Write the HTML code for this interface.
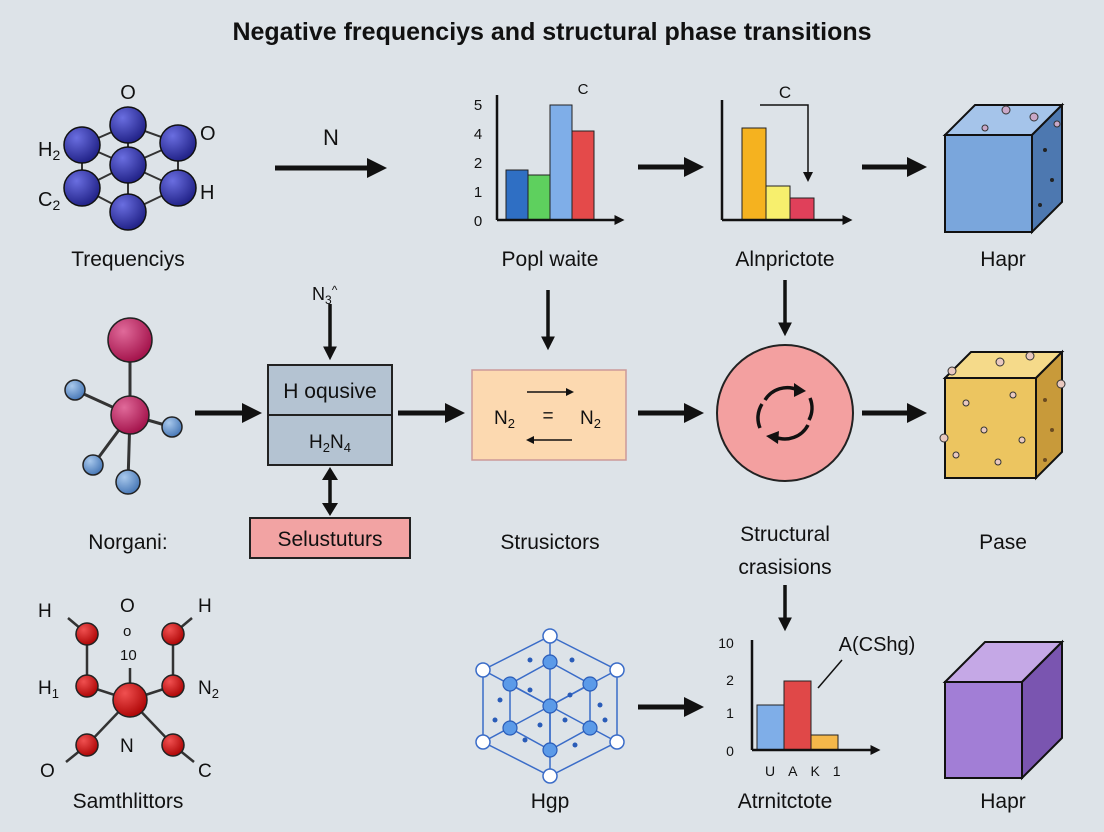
<!DOCTYPE html>
<html><head><meta charset="utf-8"><style>
html,body{margin:0;padding:0;background:#dde3e8;}
svg{display:block;font-family:"Liberation Sans",sans-serif;}
</style></head><body>
<svg width="1104" height="832" viewBox="0 0 1104 832" xmlns="http://www.w3.org/2000/svg">
<defs>
<marker id="ah" markerWidth="4" markerHeight="4" refX="2.2" refY="2" orient="auto" markerUnits="strokeWidth"><path d="M0,0 L4,2 L0,4 z" fill="#111"/></marker>
<radialGradient id="gb" cx="35%" cy="30%" r="70%"><stop offset="0" stop-color="#6a6ee0"/><stop offset="1" stop-color="#23248a"/></radialGradient>
<radialGradient id="gp" cx="35%" cy="30%" r="70%"><stop offset="0" stop-color="#e06a9a"/><stop offset="1" stop-color="#a5154d"/></radialGradient>
<radialGradient id="gl" cx="35%" cy="30%" r="70%"><stop offset="0" stop-color="#a8c8ec"/><stop offset="1" stop-color="#4a7ab8"/></radialGradient>
<radialGradient id="gr" cx="35%" cy="30%" r="70%"><stop offset="0" stop-color="#f05050"/><stop offset="1" stop-color="#b00808"/></radialGradient>
</defs>
<rect width="1104" height="832" fill="#dde3e8"/>
<text x="552" y="40" text-anchor="middle" font-size="25" font-weight="bold" fill="#111">Negative frequenciys and structural phase transitions</text>

<!-- Molecule 1 -->
<g stroke="#333" stroke-width="2">
<line x1="128" y1="125" x2="82" y2="145"/><line x1="128" y1="125" x2="178" y2="143"/><line x1="128" y1="125" x2="128" y2="165"/>
<line x1="82" y1="145" x2="128" y2="165"/><line x1="178" y1="143" x2="128" y2="165"/>
<line x1="82" y1="145" x2="82" y2="188"/><line x1="178" y1="143" x2="178" y2="188"/>
<line x1="128" y1="165" x2="82" y2="188"/><line x1="128" y1="165" x2="178" y2="188"/><line x1="128" y1="165" x2="128" y2="212"/>
<line x1="82" y1="188" x2="128" y2="212"/><line x1="178" y1="188" x2="128" y2="212"/>
</g>
<g fill="url(#gb)" stroke="#111" stroke-width="1.5">
<circle cx="128" cy="125" r="18"/><circle cx="82" cy="145" r="18"/><circle cx="178" cy="143" r="18"/><circle cx="128" cy="165" r="18"/><circle cx="82" cy="188" r="18"/><circle cx="178" cy="188" r="18"/><circle cx="128" cy="212" r="18"/>
</g>
<g font-size="20" fill="#111">
<text x="128" y="99" text-anchor="middle">O</text><text x="38" y="156">H<tspan font-size="14" dy="4">2</tspan></text>
<text x="200" y="140">O</text><text x="38" y="206">C<tspan font-size="14" dy="4">2</tspan></text><text x="200" y="199">H</text>
</g>

<!-- arrows row1 -->
<g stroke="#111" stroke-width="5" marker-end="url(#ah)">
<line x1="275" y1="168" x2="378" y2="168"/>
<line x1="638" y1="167" x2="695" y2="167"/>
<line x1="862" y1="167" x2="918" y2="167"/>
<line x1="638" y1="413" x2="695" y2="413"/>
<line x1="862" y1="413" x2="918" y2="413"/>
<line x1="195" y1="413" x2="253" y2="413"/>
<line x1="398" y1="413" x2="456" y2="413"/>
<line x1="638" y1="707" x2="695" y2="707"/>
</g>
<text x="331" y="145" text-anchor="middle" font-size="22" fill="#111">N</text>

<!-- chart 1 -->
<rect x="506" y="170" width="22" height="50" fill="#2f6fc4" stroke="#222"/>
<rect x="528" y="175" width="22" height="45" fill="#5ed05e" stroke="#222"/>
<rect x="550" y="105" width="22" height="115" fill="#7faee8" stroke="#222"/>
<rect x="572" y="131" width="22" height="89" fill="#e44a4a" stroke="#222"/>
<g stroke="#111" stroke-width="2.5"><line x1="497" y1="95" x2="497" y2="220"/><line x1="497" y1="220" x2="620" y2="220" marker-end="url(#ah)"/></g>
<g font-size="15" fill="#111" text-anchor="middle"><text x="478" y="110">5</text><text x="478" y="139">4</text><text x="478" y="168">2</text><text x="478" y="197">1</text><text x="478" y="226">0</text><text x="583" y="94">C</text></g>

<!-- chart 2 -->
<rect x="742" y="128" width="24" height="92" fill="#f5b21f" stroke="#222"/>
<rect x="766" y="186" width="24" height="34" fill="#f7ef6d" stroke="#222"/>
<rect x="790" y="198" width="24" height="22" fill="#e0405a" stroke="#222"/>
<g stroke="#111" stroke-width="2.5"><line x1="722" y1="100" x2="722" y2="220"/><line x1="722" y1="220" x2="848" y2="220" marker-end="url(#ah)"/></g>
<g stroke="#111" stroke-width="1.5" fill="none"><polyline points="760,105 808,105 808,176"/></g>
<path d="M803,172 L808,182 L813,172z" fill="#111"/>
<text x="785" y="98" text-anchor="middle" font-size="17" fill="#111">C</text>

<!-- blue cube -->
<polygon points="945,135 975,105 1062,105 1032,135" fill="#a5c4ea" stroke="#111" stroke-width="2"/>
<polygon points="1032,135 1062,105 1062,202 1032,232" fill="#4d78b0" stroke="#111" stroke-width="2"/>
<rect x="945" y="135" width="87" height="97" fill="#7aa6dc" stroke="#111" stroke-width="2"/>
<g fill="#c9a8c8" stroke="#333"><circle cx="1006" cy="110" r="4"/><circle cx="1034" cy="117" r="4"/><circle cx="1057" cy="124" r="3"/><circle cx="985" cy="128" r="3"/></g>
<g fill="#222"><circle cx="1045" cy="150" r="2"/><circle cx="1052" cy="180" r="2"/><circle cx="1040" cy="205" r="2"/></g>

<!-- labels row1 -->
<g font-size="21" fill="#111" text-anchor="middle">
<text x="128" y="266">Trequenciys</text><text x="550" y="266">Popl waite</text><text x="785" y="266">Alnprictote</text><text x="1003" y="266">Hapr</text>
<text x="128" y="549">Norgani:</text><text x="550" y="549">Strusictors</text><text x="785" y="541">Structural</text><text x="785" y="574">crasisions</text><text x="1003" y="549">Pase</text>
<text x="128" y="808">Samthlittors</text><text x="550" y="808">Hgp</text><text x="785" y="808">Atrnitctote</text><text x="1003" y="808">Hapr</text>
</g>

<!-- down arrows -->
<g stroke="#111" stroke-width="3.5" marker-end="url(#ah)">
<line x1="330" y1="304" x2="330" y2="354"/>
<line x1="548" y1="290" x2="548" y2="344"/>
<line x1="785" y1="280" x2="785" y2="330"/>
<line x1="785" y1="585" x2="785" y2="625"/>
</g>
<text x="312" y="300" font-size="18" fill="#111">N<tspan font-size="12" dy="4">3</tspan><tspan dy="-10" font-size="12">^</tspan></text>

<!-- middle molecule -->
<g stroke="#333" stroke-width="3"><line x1="130" y1="340" x2="130" y2="415"/><line x1="75" y1="390" x2="130" y2="415"/><line x1="172" y1="427" x2="130" y2="415"/><line x1="93" y1="465" x2="130" y2="415"/><line x1="128" y1="482" x2="130" y2="415"/></g>
<circle cx="130" cy="340" r="22" fill="url(#gp)" stroke="#222" stroke-width="1.5"/>
<circle cx="130" cy="415" r="19" fill="url(#gp)" stroke="#222" stroke-width="1.5"/>
<g fill="url(#gl)" stroke="#222" stroke-width="1.5"><circle cx="75" cy="390" r="10"/><circle cx="172" cy="427" r="10"/><circle cx="93" cy="465" r="10"/><circle cx="128" cy="482" r="12"/></g>

<!-- H box -->
<rect x="268" y="365" width="124" height="100" fill="#b4c3d2" stroke="#222" stroke-width="2"/>
<line x1="268" y1="415" x2="392" y2="415" stroke="#222" stroke-width="2"/>
<text x="330" y="398" text-anchor="middle" font-size="21" fill="#111">H oqusive</text>
<text x="330" y="448" text-anchor="middle" font-size="19" fill="#111">H<tspan font-size="13" dy="4">2</tspan><tspan dy="-4">N</tspan><tspan font-size="13" dy="4">4</tspan></text>
<g stroke="#111" stroke-width="3.5"><line x1="330" y1="478" x2="330" y2="505"/></g>
<path d="M322,480 L330,467 L338,480z M322,503 L330,516 L338,503z" fill="#111"/>
<rect x="250" y="518" width="160" height="40" fill="#f2a3a3" stroke="#222" stroke-width="2"/>
<text x="330" y="546" text-anchor="middle" font-size="21" fill="#111">Selustuturs</text>

<!-- N2 box -->
<rect x="472" y="370" width="154" height="90" fill="#fcd9b0" stroke="#c99" stroke-width="1.5"/>
<text x="494" y="424" font-size="19" fill="#111">N<tspan font-size="13" dy="4">2</tspan></text>
<text x="548" y="422" text-anchor="middle" font-size="19" fill="#111">=</text>
<text x="580" y="424" font-size="19" fill="#111">N<tspan font-size="13" dy="4">2</tspan></text>
<g stroke="#111" stroke-width="1.5"><line x1="527" y1="392" x2="568" y2="392"/><line x1="532" y1="440" x2="572" y2="440"/></g>
<path d="M566,388 L574,392 L566,396z M534,436 L526,440 L534,444z" fill="#111"/>

<!-- circle -->
<circle cx="785" cy="413" r="68" fill="#f3a0a0" stroke="#222" stroke-width="2"/>
<g fill="none" stroke="#111" stroke-width="3.5">
<path d="M765,400 A26,26 0 0 1 798,390"/><path d="M808,425 A26,26 0 0 1 775,437"/><path d="M760,428 A26,26 0 0 1 762,404"/><path d="M810,398 A26,26 0 0 1 809,420"/>
</g>
<path d="M794,383 L806,391 L794,397z M778,444 L766,436 L779,431z" fill="#111"/>

<!-- yellow cube -->
<polygon points="945,378 971,352 1062,352 1036,378" fill="#f5da8a" stroke="#111" stroke-width="2"/>
<polygon points="1036,378 1062,352 1062,452 1036,478" fill="#c89a3a" stroke="#111" stroke-width="2"/>
<rect x="945" y="378" width="91" height="100" fill="#ecc560" stroke="#111" stroke-width="2"/>
<g fill="#e9c9c0" stroke="#333"><circle cx="952" cy="371" r="4"/><circle cx="1000" cy="362" r="4"/><circle cx="1030" cy="356" r="4"/><circle cx="966" cy="403" r="3"/><circle cx="1013" cy="395" r="3"/><circle cx="984" cy="430" r="3"/><circle cx="1022" cy="440" r="3"/><circle cx="956" cy="455" r="3"/><circle cx="998" cy="462" r="3"/><circle cx="944" cy="438" r="4"/><circle cx="1061" cy="384" r="4"/></g>
<g fill="#6a4a20"><circle cx="1045" cy="400" r="2"/><circle cx="1052" cy="430" r="2"/><circle cx="1045" cy="460" r="2"/></g>

<!-- bottom-left molecule -->
<g stroke="#333" stroke-width="2.5">
<line x1="87" y1="634" x2="87" y2="686"/><line x1="173" y1="634" x2="173" y2="686"/>
<line x1="87" y1="634" x2="68" y2="618"/><line x1="173" y1="634" x2="192" y2="618"/>
<line x1="87" y1="686" x2="130" y2="700"/><line x1="173" y1="686" x2="130" y2="700"/>
<line x1="130" y1="700" x2="87" y2="745"/><line x1="130" y1="700" x2="173" y2="745"/>
<line x1="87" y1="745" x2="66" y2="762"/><line x1="173" y1="745" x2="194" y2="762"/>
<line x1="130" y1="668" x2="130" y2="700"/>
</g>
<g fill="url(#gr)" stroke="#222" stroke-width="1.5">
<circle cx="87" cy="634" r="11"/><circle cx="173" cy="634" r="11"/><circle cx="87" cy="686" r="11"/><circle cx="173" cy="686" r="11"/><circle cx="130" cy="700" r="17"/><circle cx="87" cy="745" r="11"/><circle cx="173" cy="745" r="11"/>
</g>
<g font-size="19" fill="#111">
<text x="38" y="617">H</text><text x="120" y="612">O</text><text x="123" y="636" font-size="15">o</text><text x="120" y="660" font-size="15">10</text><text x="198" y="612">H</text>
<text x="38" y="694">H<tspan font-size="13" dy="4">1</tspan></text><text x="198" y="694">N<tspan font-size="13" dy="4">2</tspan></text>
<text x="120" y="752">N</text><text x="40" y="777">O</text><text x="198" y="777">C</text>
</g>

<!-- lattice -->
<g stroke="#3a6cc8" stroke-width="1.5" fill="none">
<polygon points="550,636 617,670 617,742 550,776 483,742 483,670"/>
<line x1="550" y1="636" x2="550" y2="776"/><line x1="483" y1="670" x2="617" y2="742"/><line x1="617" y1="670" x2="483" y2="742"/>
<polygon points="550,662 590,684 590,728 550,750 510,728 510,684"/>
<line x1="510" y1="684" x2="550" y2="706"/><line x1="590" y1="684" x2="550" y2="706"/><line x1="550" y1="706" x2="550" y2="750"/>
</g>
<g fill="#fff" stroke="#3a6cc8" stroke-width="1.5"><circle cx="550" cy="636" r="7"/><circle cx="617" cy="670" r="7"/><circle cx="617" cy="742" r="7"/><circle cx="550" cy="776" r="7"/><circle cx="483" cy="742" r="7"/><circle cx="483" cy="670" r="7"/></g>
<g fill="#5b9ae8" stroke="#2a5cb8" stroke-width="1.2"><circle cx="550" cy="662" r="7"/><circle cx="590" cy="684" r="7"/><circle cx="590" cy="728" r="7"/><circle cx="550" cy="750" r="7"/><circle cx="510" cy="728" r="7"/><circle cx="510" cy="684" r="7"/><circle cx="550" cy="706" r="7"/></g>
<g fill="#2a5cb8"><circle cx="500" cy="700" r="2.5"/><circle cx="530" cy="690" r="2.5"/><circle cx="570" cy="695" r="2.5"/><circle cx="600" cy="705" r="2.5"/><circle cx="525" cy="740" r="2.5"/><circle cx="575" cy="745" r="2.5"/><circle cx="530" cy="660" r="2.5"/><circle cx="572" cy="660" r="2.5"/><circle cx="495" cy="720" r="2.5"/><circle cx="605" cy="720" r="2.5"/><circle cx="540" cy="725" r="2.5"/><circle cx="565" cy="720" r="2.5"/></g>

<!-- chart 3 -->
<rect x="757" y="705" width="27" height="45" fill="#7faee8" stroke="#222"/>
<rect x="784" y="681" width="27" height="69" fill="#e04848" stroke="#222"/>
<rect x="811" y="735" width="27" height="15" fill="#f5b84a" stroke="#222"/>
<g stroke="#111" stroke-width="2.5"><line x1="752" y1="640" x2="752" y2="750"/><line x1="752" y1="750" x2="876" y2="750" marker-end="url(#ah)"/></g>
<line x1="818" y1="688" x2="842" y2="660" stroke="#111" stroke-width="1.5"/>
<g font-size="14" fill="#111" text-anchor="middle"><text x="726" y="648">10</text><text x="730" y="685">2</text><text x="730" y="718">1</text><text x="730" y="756">0</text></g>
<text x="877" y="651" text-anchor="middle" font-size="20" fill="#111">A(CShg)</text>
<text x="765" y="776" font-size="14" fill="#111" letter-spacing="13">UAK1</text>

<!-- purple cube -->
<polygon points="945,682 985,642 1062,642 1022,682" fill="#c5a8e6" stroke="#111" stroke-width="2"/>
<polygon points="1022,682 1062,642 1062,738 1022,778" fill="#7a55b0" stroke="#111" stroke-width="2"/>
<rect x="945" y="682" width="77" height="96" fill="#a27ed6" stroke="#111" stroke-width="2"/>
</svg>
</body></html>
